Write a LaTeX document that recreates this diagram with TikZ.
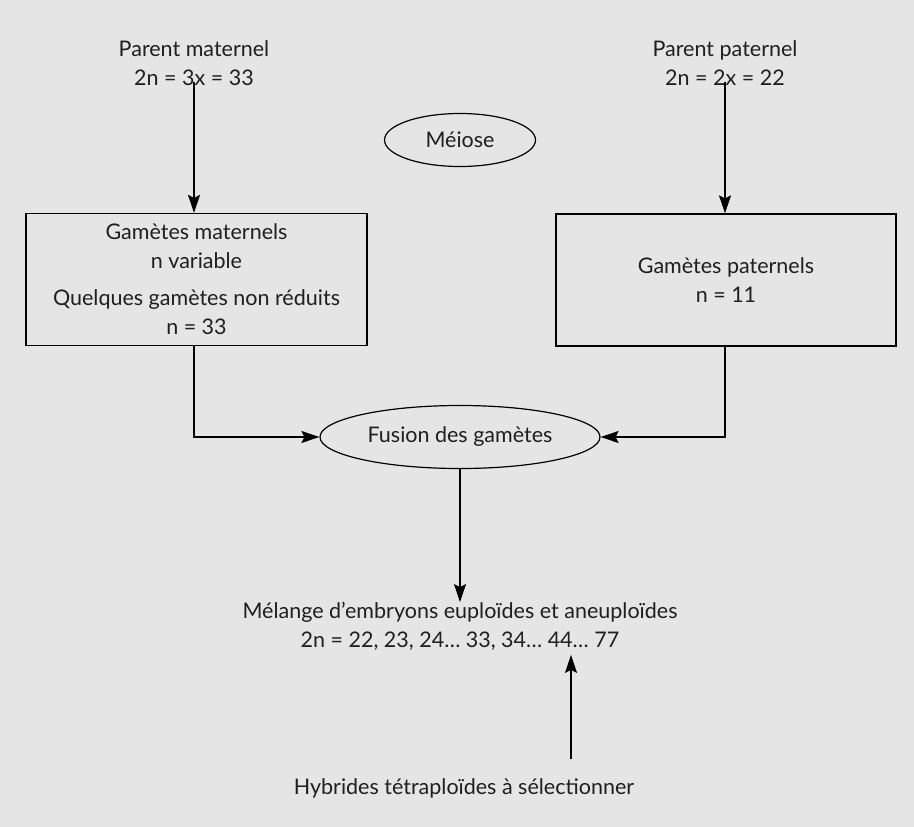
\documentclass[tikz,border=0pt]{standalone}
\usepackage{fontspec}
\setmainfont{Lato}
\usetikzlibrary{arrows.meta,shapes.geometric}
\begin{document}
\begin{tikzpicture}[x=1pt,y=-1pt,
  every node/.style={font=\fontsize{21.5}{29}\selectfont, text=black!88},
  txt/.style={align=center, inner sep=4pt},
  boxnode/.style={draw, line width=1.2pt, align=center, minimum width=341pt, minimum height=132pt, inner sep=0pt},
  ell/.style={draw, ellipse, line width=1.2pt, inner sep=0pt},
  tip/.style={-{Stealth[length=18pt,width=12pt,inset=3pt]}},
  arr/.style={line width=1.2pt, tip},
  con/.style={line width=1.2pt}
]
\fill[black!10] (0,0) rectangle (914,827);
\useasboundingbox (0,0) rectangle (914,827);

\node[txt] (pm) at (194,63) {Parent maternel\\2n = 3x = 33};
\node[txt] (pp) at (725,63) {Parent paternel\\2n = 2x = 22};
\node[ell, minimum width=151pt, minimum height=53pt] (me) at (460,140) {Méiose};

\node[boxnode] (gm) at (196.5,279.5) {Gamètes maternels\\n variable\\[8pt]Quelques gamètes non réduits\\n = 33};
\node[boxnode, minimum width=340pt] (gp) at (726,280) {Gamètes paternels\\n = 11};

\node[ell, minimum width=280pt, minimum height=63pt] (fu) at (460,437) {Fusion des gamètes};

\node[txt] (mel) at (460,626.5) {Mélange d’embryons euploïdes et aneuploïdes\\2n = 22, 23, 24\dots{} 33, 34\dots{} 44\dots{} 77};
\node[txt] (hy) at (464,788) {Hybrides tétraploïdes à sélectionner};

\draw[arr] ([yshift=8pt]pm.south) -- (pm.south |- gm.north);
\draw[arr] ([yshift=8pt]pp.south) -- (pp.south |- gp.north);

\draw[arr] (pm.south |- gm.south) |- (fu.west);
\draw[arr] (pp.south |- gp.south) |- (fu.east);

\draw[arr] (fu.south) -- ([yshift=-4pt]mel.north);

\coordinate (ua) at (571,759);
\draw[arr] (ua) -- (ua |- mel.south);
\end{tikzpicture}
\end{document}
